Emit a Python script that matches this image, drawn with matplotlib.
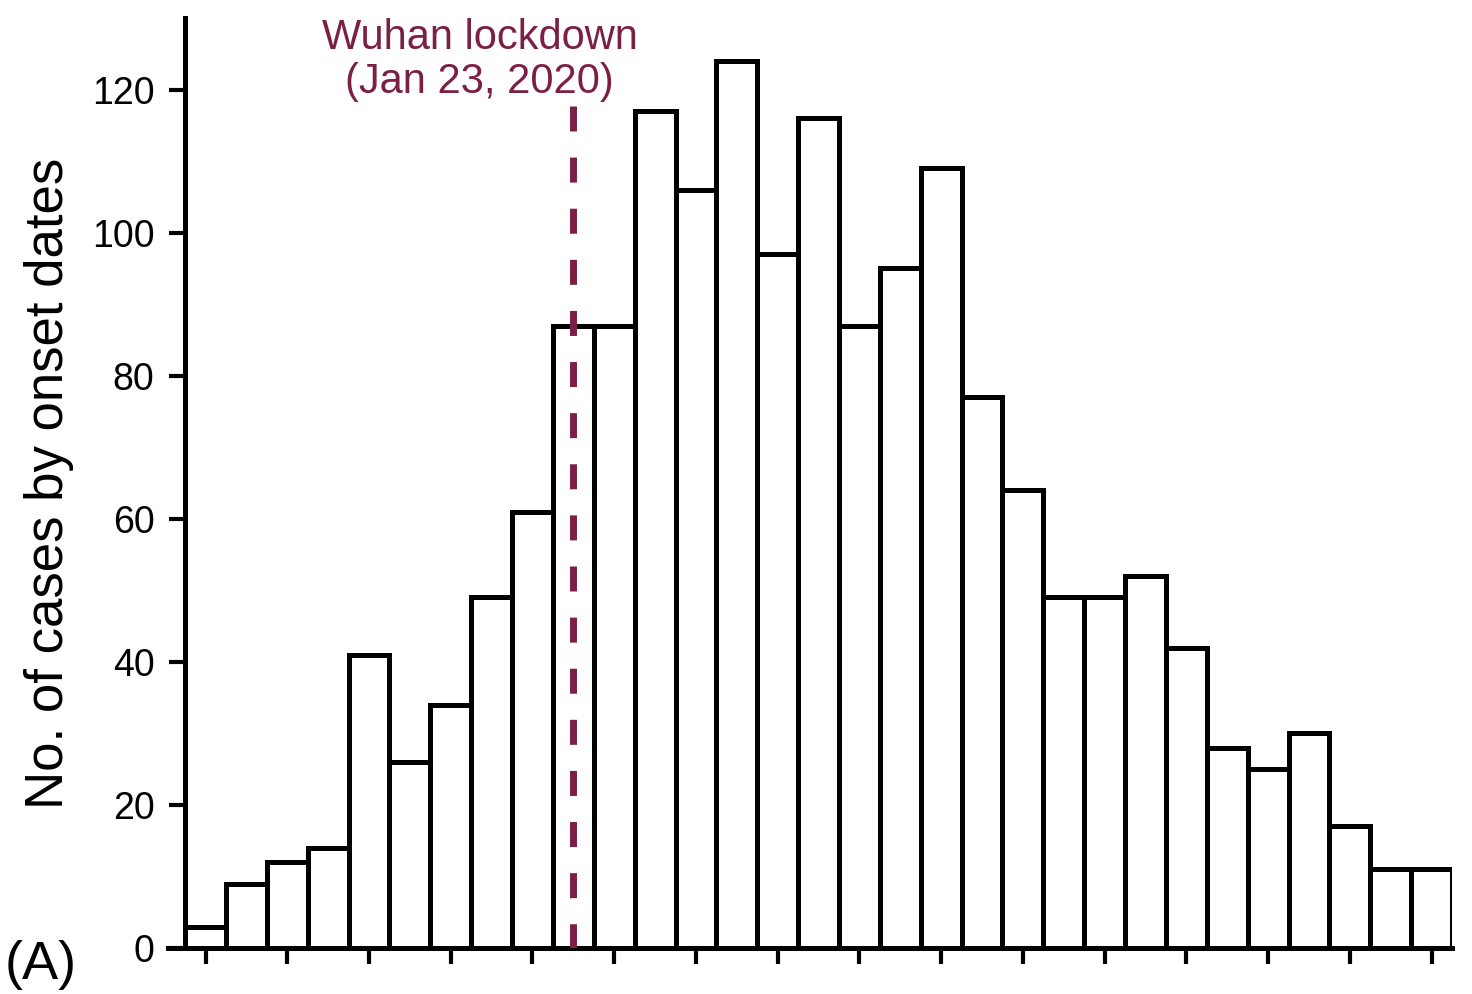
import matplotlib.pyplot as plt
import numpy as np

plt.rcParams['font.family'] = ['Liberation Sans', 'DejaVu Sans']

# daily case counts by onset date (31 days)
cases = [3, 9, 12, 14, 41, 26, 34, 49, 61, 87, 87, 117, 106, 124, 97, 116,
         87, 95, 109, 77, 64, 49, 49, 52, 42, 28, 25, 30, 17, 11, 11]
lockdown_day = 9
lockdown_label = 'Wuhan lockdown\n(Jan 23, 2020)'
lockdown_color = '#7b1f45'
yticks = [0, 20, 40, 60, 80, 100, 120]

days = np.arange(len(cases))

fig = plt.figure(figsize=(14.72, 9.94), dpi=100)
ax = fig.add_axes([0.1141, 0.0463, 0.9864 - 0.1141, 0.9819 - 0.0463])

ax.bar(days, cases, width=1.0, color='white', edgecolor='black', linewidth=3.6, zorder=2)

# lockdown marker, drawn top-down so the dash pattern starts at the top
ax.plot([lockdown_day, lockdown_day], [117.7, 0], color=lockdown_color,
        linewidth=5, dashes=(3.6, 3.76), zorder=3)
ax.text(6.71, 118.2, lockdown_label, ha='center', va='bottom', fontsize=30,
        color=lockdown_color, linespacing=1.15, clip_on=False)

ax.set_xlim(-0.92, len(cases) - 0.5)
ax.set_ylim(0, 130)
ax.set_yticks(yticks)
ax.set_xticks(days[::2])
ax.set_xticklabels([])

for s in ['top', 'right']:
    ax.spines[s].set_visible(False)
ax.spines['left'].set_position(('data', -0.5))
ax.spines['left'].set_linewidth(3.6)
ax.spines['bottom'].set_linewidth(3.6)
ax.tick_params(axis='both', direction='out', length=11.5, width=3, labelsize=27, pad=10.5)

ax.set_ylabel('No. of cases by onset dates', fontsize=38, labelpad=13)
fig.text(0.003, 0.004, '(A)', fontsize=39, va='bottom')

fig.savefig('out.png', dpi=100)
